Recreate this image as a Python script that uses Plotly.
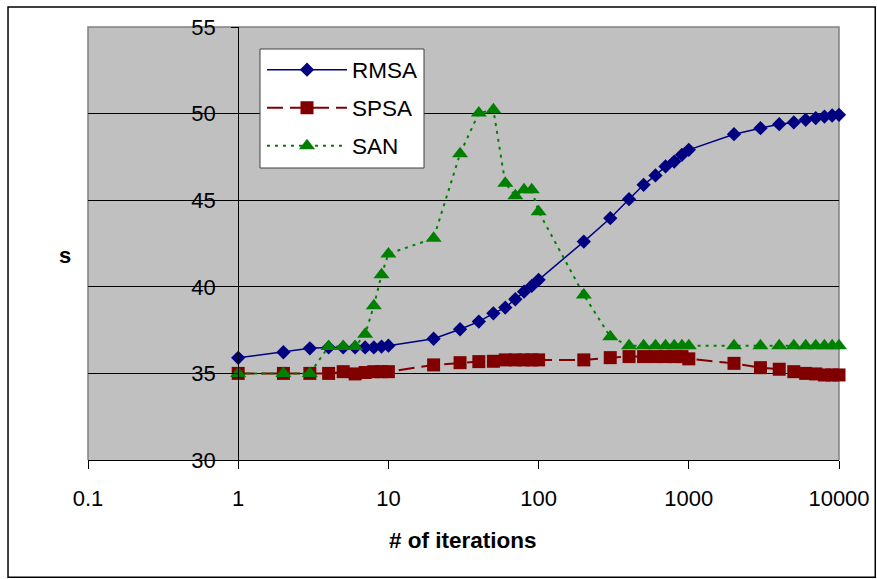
import plotly.graph_objects as go

iterations = [1, 2, 3, 4, 5, 6, 7, 8, 9, 10, 20, 30, 40, 50, 60, 70, 80, 90, 100,
              200, 300, 400, 500, 600, 700, 800, 900, 1000,
              2000, 3000, 4000, 5000, 6000, 7000, 8000, 9000, 10000]

rmsa = [35.9, 36.22, 36.45, 36.5, 36.5, 36.5, 36.5, 36.5, 36.55, 36.6, 37.0, 37.55, 37.99, 38.47,
        38.8, 39.28, 39.72, 40.05, 40.4,
        42.61, 43.96, 45.06, 45.89, 46.43, 46.95, 47.23, 47.62, 47.91,
        48.81, 49.16, 49.39, 49.49, 49.64, 49.74, 49.83, 49.89, 49.93]

spsa = [35.0, 35.0, 35.0, 35.0, 35.1, 34.97, 35.05, 35.1, 35.1, 35.1, 35.49, 35.62, 35.68, 35.7,
        35.78, 35.78, 35.78, 35.78, 35.78,
        35.78, 35.91, 35.97, 35.97, 35.97, 35.97, 35.97, 35.97, 35.84,
        35.58, 35.33, 35.24, 35.1, 35.0, 34.97, 34.91, 34.91, 34.91]

san = [35.0, 35.0, 35.0, 36.55, 36.55, 36.55, 37.26, 38.9, 40.69, 41.9, 42.8, 47.68, 50.03, 50.22,
       45.98, 45.25, 45.6, 45.6, 44.34,
       39.53, 37.12, 36.59, 36.59, 36.59, 36.59, 36.59, 36.59, 36.59,
       36.59, 36.59, 36.59, 36.59, 36.59, 36.59, 36.59, 36.59, 36.59]

x_tickvals = [0.1, 1, 10, 100, 1000, 10000]
x_ticktext = ["0.1", "1", "10", "100", "1000", "10000"]
y_tickvals = [30, 35, 40, 45, 50, 55]

FONT = "Liberation Sans, Arial, sans-serif"

fig = go.Figure()
fig.add_trace(go.Scatter(
    x=iterations, y=rmsa, name="RMSA", mode="lines+markers", legend="legend",
    line=dict(color="#000080", width=1.5),
    marker=dict(symbol="diamond", size=11, color="#000080"),
    cliponaxis=False))
fig.add_trace(go.Scatter(
    x=iterations, y=spsa, name="SPSA", mode="lines+markers", legend="legend2",
    line=dict(color="#800000", width=2, dash="16px,7px"),
    marker=dict(symbol="square", size=13, color="#800000"),
    cliponaxis=False))
fig.add_trace(go.Scatter(
    x=iterations, y=san, name="SAN", mode="lines+markers", legend="legend3",
    line=dict(color="#008000", width=2, dash="3px,5px"),
    marker=dict(symbol="triangle-up", size=14, color="#008000"),
    cliponaxis=False))

leg_common = dict(xanchor="left", yanchor="middle", bgcolor="rgba(0,0,0,0)",
                  borderwidth=0, font=dict(size=22.5, family=FONT, color="black"),
                  itemwidth=80)
LX = (262 - 88) / 751

fig.update_layout(
    width=877, height=579,
    margin=dict(l=88, r=38, t=27, b=119, autoexpand=False),
    paper_bgcolor="white", plot_bgcolor="#C0C0C0",
    font=dict(family=FONT, size=22, color="black"),
    showlegend=True,
    legend=dict(x=LX, y=(460 - 70) / 433, **leg_common),
    legend2=dict(x=LX, y=(460 - 108) / 433, **leg_common),
    legend3=dict(x=LX, y=(460 - 146) / 433, **leg_common),
    xaxis=dict(type="log", range=[-1, 4], tickvals=x_tickvals, ticktext=x_ticktext,
               showgrid=False, showline=True, linecolor="black", linewidth=1,
               ticks="outside", ticklen=8, tickcolor="black", zeroline=False,
               tickfont=dict(size=22), ticklabelstandoff=11, automargin=False),
    yaxis=dict(range=[30, 55], tickvals=y_tickvals, showgrid=True, gridcolor="black",
               gridwidth=1, anchor="free", position=0.2, showline=True,
               linecolor="black", linewidth=1, ticks="outside", ticklen=7,
               tickcolor="black", zeroline=False, tickfont=dict(size=22),
               ticklabelstandoff=11, automargin=False),
    shapes=[
        dict(type="path", xref="paper", yref="paper", path="M 0,0 L 0,1 L 1,1 L 1,0",
             line=dict(color="#808080", width=1.5), layer="between"),
        dict(type="rect", xref="paper", yref="paper", x0=-0.1065, x1=1.0483,
             y0=-0.2710, y1=1.0462, line=dict(color="black", width=1.5), layer="below"),
        dict(type="rect", xref="paper", yref="paper",
             x0=(260 - 88) / 751, x1=(424 - 88) / 751,
             y0=(460 - 168) / 433, y1=(460 - 49) / 433,
             line=dict(color="#404040", width=1), fillcolor="white", layer="above"),
    ],
    annotations=[
        dict(text="<b># of iterations</b>", xref="paper", yref="paper", x=0.4993, y=-0.1848,
             showarrow=False, font=dict(size=22.5, family=FONT), xanchor="center", yanchor="middle"),
        dict(text="<b>s</b>", xref="paper", yref="paper", x=-0.0306, y=0.4734,
             showarrow=False, font=dict(size=22, family=FONT), xanchor="center", yanchor="middle"),
    ],
)

fig.write_html("out.html")
